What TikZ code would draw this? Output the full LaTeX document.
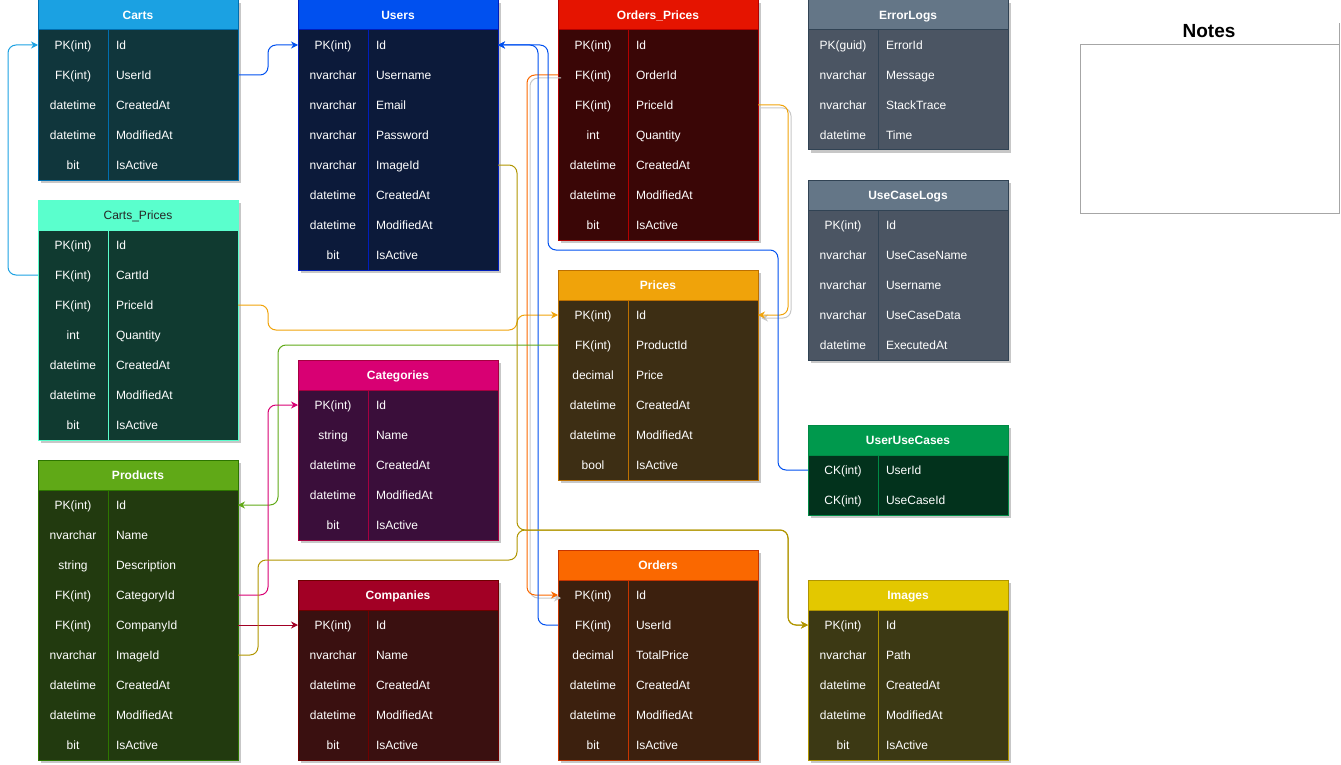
\documentclass[tikz,border=0pt]{standalone}
\usepackage{fontspec}
\setmainfont{Liberation Sans}
\usetikzlibrary{positioning, arrows.meta, backgrounds}

\definecolor{cartsHead}{HTML}{1BA1E2}
\definecolor{cartsBody}{HTML}{10363C}
\definecolor{cartsLine}{HTML}{006EAF}
\definecolor{usersHead}{HTML}{0050EF}
\definecolor{usersBody}{HTML}{0C1A3A}
\definecolor{usersLine}{HTML}{001DBC}
\definecolor{opHead}{HTML}{E51400}
\definecolor{opBody}{HTML}{3A0606}
\definecolor{opLine}{HTML}{B20000}
\definecolor{logHead}{HTML}{647687}
\definecolor{logBody}{HTML}{4B5563}
\definecolor{logLine}{HTML}{314354}
\definecolor{cpHead}{HTML}{5AFFCD}
\definecolor{cpBody}{HTML}{103A30}
\definecolor{pricesHead}{HTML}{F0A30A}
\definecolor{pricesBody}{HTML}{3D2E14}
\definecolor{pricesLine}{HTML}{BD7000}
\definecolor{categoriesHead}{HTML}{D80073}
\definecolor{categoriesBody}{HTML}{3A0E3A}
\definecolor{categoriesLine}{HTML}{A50040}
\definecolor{uucHead}{HTML}{00994D}
\definecolor{uucBody}{HTML}{02321C}
\definecolor{uucLine}{HTML}{008A45}
\definecolor{productsHead}{HTML}{60A917}
\definecolor{productsBody}{HTML}{223A0F}
\definecolor{productsLine}{HTML}{2D7600}
\definecolor{companiesHead}{HTML}{A20025}
\definecolor{companiesBody}{HTML}{3A1010}
\definecolor{companiesLine}{HTML}{6F0000}
\definecolor{ordersHead}{HTML}{FA6800}
\definecolor{ordersBody}{HTML}{3C200E}
\definecolor{ordersLine}{HTML}{C73500}
\definecolor{imagesHead}{HTML}{E3C800}
\definecolor{imagesBody}{HTML}{3C3914}
\definecolor{imagesLine}{HTML}{B09500}

% name, top left, title, head, body, line, head options, rows
\newcommand{\erTable}[8]{%
  \node[tblhead, fill=#4, draw=#6, #7] (#1) at (#2) {#3};
  \foreach \k/\f [count=\i] in {#8} {
    \node[keycell] (#1-k\i) at ([yshift={-(\i-1)*30pt}]#1.south west) {\k};
    \node[fieldcell, right=0pt of #1-k\i] (#1-f\i) {\f};
    \xdef\erLast{\i}
  }
  \begin{scope}[on background layer]
    \fill[black!22] ([shift={(3pt,-3pt)}]#1.north west) rectangle ([shift={(3pt,-3pt)}]#1-f\erLast.south east);
    \fill[#5] (#1.south west) rectangle (#1-f\erLast.south east);
  \end{scope}
  \draw[#6, line width=1pt] (#1.north west) rectangle (#1-f\erLast.south east);
  \draw[#6, line width=1pt] (#1-k1.north east) -- (#1-k\erLast.south east);
}

\begin{document}
\begin{tikzpicture}[x=1pt, y=-1pt,
    every node/.style={font=\fontsize{12}{14}\selectfont, text=white, inner sep=0pt, outer sep=0pt, text height=9.8pt, text depth=1.2pt},
    tblhead/.style={anchor=north west, minimum width=200pt, minimum height=30pt, line width=1pt, font=\bfseries\fontsize{12}{14}\selectfont},
    keycell/.style={anchor=north west, minimum width=70pt, minimum height=30pt},
    fieldcell/.style={text width=114pt, inner xsep=8pt, minimum height=30pt, align=left},
    fk/.style={line width=1pt, rounded corners=8pt, -{Stealth[length=7pt, width=7pt]}},
    fkshadow/.style={fk, black!22, transform canvas={shift={(3pt,-3pt)}}}]
  \useasboundingbox (0,0) rectangle (1341,765);

  \erTable{carts}{38,0}{Carts}{cartsHead}{cartsBody}{cartsLine}{}{PK(int)/Id, FK(int)/UserId, datetime/CreatedAt, datetime/ModifiedAt, bit/IsActive}
  \erTable{users}{298,0}{Users}{usersHead}{usersBody}{usersLine}{}{PK(int)/Id, nvarchar/Username, nvarchar/Email, nvarchar/Password, nvarchar/ImageId, datetime/CreatedAt, datetime/ModifiedAt, bit/IsActive}
  \erTable{ordersprices}{558,0}{Orders\_Prices}{opHead}{opBody}{opLine}{}{PK(int)/Id, FK(int)/OrderId, FK(int)/PriceId, int/Quantity, datetime/CreatedAt, datetime/ModifiedAt, bit/IsActive}
  \erTable{errorlogs}{808,0}{ErrorLogs}{logHead}{logBody}{logLine}{}{PK(guid)/ErrorId, nvarchar/Message, nvarchar/StackTrace, datetime/Time}
  \erTable{usecaselogs}{808,180}{UseCaseLogs}{logHead}{logBody}{logLine}{}{PK(int)/Id, nvarchar/UseCaseName, nvarchar/Username, nvarchar/UseCaseData, datetime/ExecutedAt}
  \erTable{cartsprices}{38,200}{Carts\_Prices}{cpHead}{cpBody}{cpHead}{text=black!85, font=\fontsize{12}{14}\selectfont}{PK(int)/Id, FK(int)/CartId, FK(int)/PriceId, int/Quantity, datetime/CreatedAt, datetime/ModifiedAt, bit/IsActive}
  \erTable{prices}{558,270}{Prices}{pricesHead}{pricesBody}{pricesLine}{}{PK(int)/Id, FK(int)/ProductId, decimal/Price, datetime/CreatedAt, datetime/ModifiedAt, bool/IsActive}
  \erTable{categories}{298,360}{Categories}{categoriesHead}{categoriesBody}{categoriesLine}{}{PK(int)/Id, string/Name, datetime/CreatedAt, datetime/ModifiedAt, bit/IsActive}
  \erTable{userusecases}{808,425}{UserUseCases}{uucHead}{uucBody}{uucLine}{}{CK(int)/UserId, CK(int)/UseCaseId}
  \erTable{products}{38,460}{Products}{productsHead}{productsBody}{productsLine}{}{PK(int)/Id, nvarchar/Name, string/Description, FK(int)/CategoryId, FK(int)/CompanyId, nvarchar/ImageId, datetime/CreatedAt, datetime/ModifiedAt, bit/IsActive}
  \erTable{companies}{298,580}{Companies}{companiesHead}{companiesBody}{companiesLine}{}{PK(int)/Id, nvarchar/Name, datetime/CreatedAt, datetime/ModifiedAt, bit/IsActive}
  \erTable{orders}{558,550}{Orders}{ordersHead}{ordersBody}{ordersLine}{}{PK(int)/Id, FK(int)/UserId, decimal/TotalPrice, datetime/CreatedAt, datetime/ModifiedAt, bit/IsActive}
  \erTable{images}{808,580}{Images}{imagesHead}{imagesBody}{imagesLine}{}{PK(int)/Id, nvarchar/Path, datetime/CreatedAt, datetime/ModifiedAt, bit/IsActive}

  \node[text=black, font=\bfseries\fontsize{19}{22}\selectfont, text height=14pt, text depth=0pt] (notes) at (1209,31) {Notes};
  \node[draw=black!35, line width=1pt, anchor=north west, minimum width=259pt, minimum height=168pt] (notesbox) at (1080,45) {};
  \draw[black!35, line width=1pt] (notesbox.north east) -- ++(0,-22);

  \coordinate (imgbus) at (517,530);

  \draw[fkshadow] (ordersprices-k2.west) -- ++(-31,0) |- (orders-k1.west);
  \draw[fkshadow] (ordersprices-f3.east) -- ++(30,0) |- (prices-f1.east);

  \draw[fk, cartsHead] (cartsprices-k2.west) -- ++(-30,0) |- (carts-k1.west);
  \draw[fk, usersHead] (carts-f2.east) -- ++(30,0) |- (users-k1.west);
  \draw[fk, pricesHead] (cartsprices-f3.east) -- ++(30,0) -- ++(0,25) -| ([xshift=-41pt]prices-k1.west) -- (prices-k1.west);
  \draw[fk, pricesHead] (ordersprices-f3.east) -- ++(30,0) |- (prices-f1.east);
  \draw[fk, ordersHead] (ordersprices-k2.west) -- ++(-31,0) |- (orders-k1.west);
  \draw[fk, usersHead] (orders-k2.west) -- ++(-20,0) |- (users-f1.east);
  \draw[fk, usersHead] (userusecases-k1.west) -- ++(-30,0) -- ++(0,-220) -- ++(-230,0) |- (users-f1.east);
  \draw[fk, productsHead] (prices-k2.west) -| ([xshift=40pt]products-f1.east) -- (products-f1.east);
  \draw[fk, categoriesHead] (products-f4.east) -- ++(30,0) |- (categories-k1.west);
  \draw[fk, companiesHead] (products-f5.east) -- (companies-k1.west);
  \draw[fk, imagesLine] (users-f5.east) -| (imgbus) -| ([xshift=-20pt]images-k1.west) -- (images-k1.west);
  \draw[fk, imagesLine] (products-f6.east) -- ++(20,0) -- ++(0,-95) -| (imgbus) -| ([xshift=-20pt]images-k1.west) -- (images-k1.west);
\end{tikzpicture}
\end{document}
